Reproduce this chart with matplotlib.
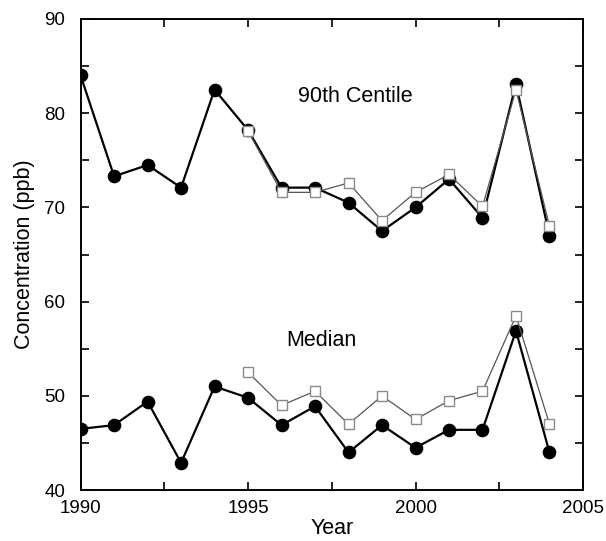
import numpy as np
import matplotlib.pyplot as plt
from matplotlib.ticker import MultipleLocator

plt.rcParams['font.family'] = ['Liberation Sans', 'DejaVu Sans']

# %% data
years = np.arange(1990, 2005)
p90_circle = [84.0, 73.3, 74.5, 72.1, 82.5, 78.2, 72.1, 72.1, 70.5, 67.5, 70.0, 73.0, 68.9, 83.1, 67.0]
med_circle = [46.5, 46.9, 49.4, 42.9, 51.0, 49.8, 46.9, 48.9, 44.0, 46.9, 44.5, 46.4, 46.4, 56.9, 44.0]

years_sq = np.arange(1995, 2005)
p90_square = [78.1, 71.6, 71.6, 72.6, 68.6, 71.6, 73.5, 70.1, 82.5, 68.0]
med_square = [52.5, 49.0, 50.5, 47.0, 50.0, 47.5, 49.5, 50.5, 58.5, 47.0]

# %% plot
fig = plt.figure(figsize=(6.06, 5.41), dpi=100)
ax = fig.add_axes([0.133, 0.094, 0.829, 0.871])

circ = dict(color="black", lw=1.6, marker="o", ms=8.8, mfc="black", mec="black", zorder=3)
sq = dict(color="#555555", lw=0.9, marker="s", ms=6.8, mfc="white", mec="#8a8a8a", mew=1.0, zorder=4)

ax.plot(years, p90_circle, **circ)
ax.plot(years, med_circle, **circ)
ax.plot(years_sq, p90_square, **sq)
ax.plot(years_sq, med_square, **sq)

ax.text(1998.2, 81.8, "90th Centile", fontsize=15.5, ha="center", va="center")
ax.text(1997.2, 55.85, "Median", fontsize=15.5, ha="center", va="center")

ax.set_xlim(1990, 2005)
ax.set_ylim(40, 90)
ax.xaxis.set_major_locator(MultipleLocator(5))
ax.xaxis.set_minor_locator(MultipleLocator(2.5))
ax.yaxis.set_major_locator(MultipleLocator(10))
ax.yaxis.set_minor_locator(MultipleLocator(5))
ax.tick_params(which="both", direction="in", top=True, right=True, length=6, width=1.2, labelsize=13.5)
ax.tick_params(axis="x", pad=7)
ax.tick_params(axis="y", pad=11)
for s in ax.spines.values():
    s.set_linewidth(1.4)

ax.set_xlabel("Year", fontsize=15.5, labelpad=1)
ax.set_ylabel("Concentration (ppb)", fontsize=15.5, labelpad=7)

fig.savefig("out.png", dpi=100)
